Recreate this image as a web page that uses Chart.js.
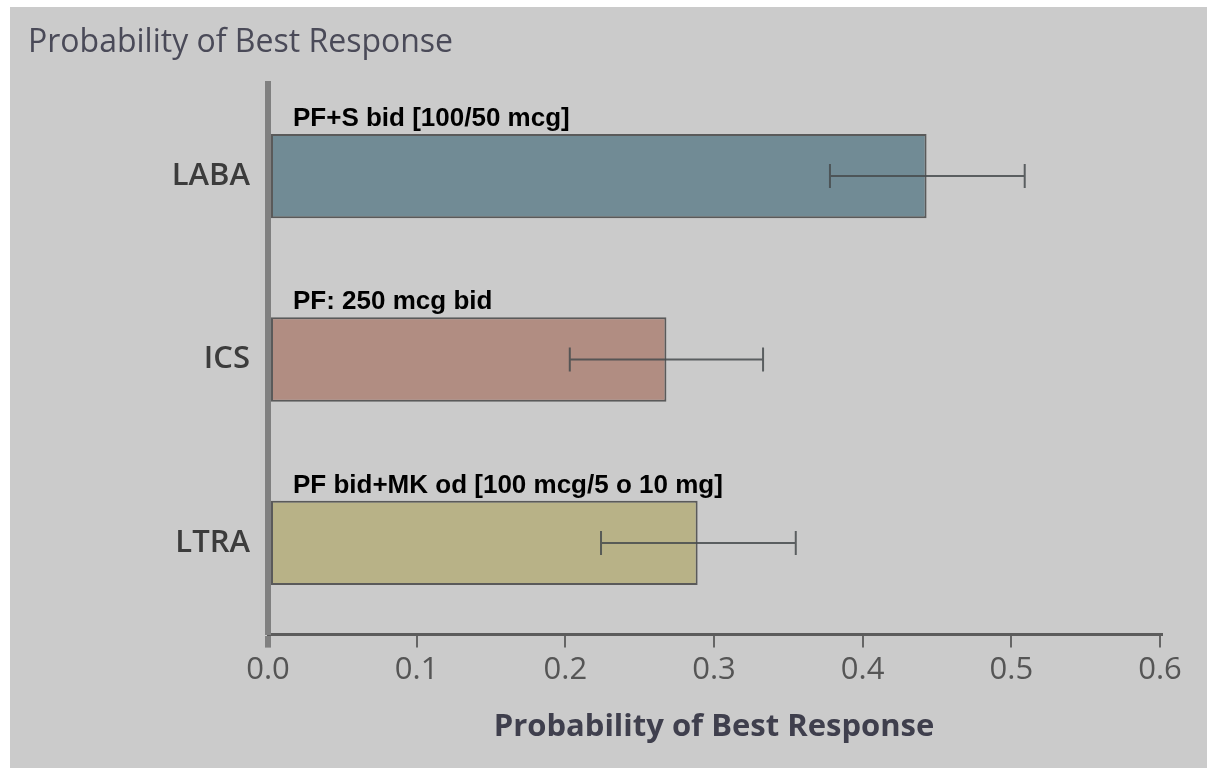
<!DOCTYPE html>
<html>
<head>
<meta charset="utf-8">
<script src="https://cdn.jsdelivr.net/npm/chart.js@4.4.1/dist/chart.umd.min.js"></script>
<style>
  body { margin: 0; background: #ffffff; }
  #wrap { position: absolute; left: 10px; top: 7px; width: 1197px; height: 761px; background: #cbcbcb; }
</style>
</head>
<body>
<div id="wrap"><canvas id="myChart" width="1197" height="761"></canvas></div>
<script>
// data
const categories = ["LABA", "ICS", "LTRA"];
const probValues = [0.443, 0.268, 0.289];
const errLow = [0.378, 0.203, 0.224];
const errHigh = [0.509, 0.333, 0.355];
const barNotes = ["PF+S bid [100/50 mcg]", "PF: 250 mcg bid", "PF bid+MK od [100 mcg/5 o 10 mg]"];
const barColors = ["#718b95", "#b18d82", "#b8b287"];
const xTicks = [0, 0.1, 0.2, 0.3, 0.4, 0.5, 0.6];

// draws the note over each bar and the error bars
const extrasPlugin = {
  id: "extras",
  afterDatasetsDraw(chart) {
    const ctx = chart.ctx;
    const xScale = chart.scales.x;
    const meta = chart.getDatasetMeta(0);
    ctx.save();
    meta.data.forEach((bar, i) => {
      // error bar
      const x1 = xScale.getPixelForValue(errLow[i]);
      const x2 = xScale.getPixelForValue(errHigh[i]);
      ctx.strokeStyle = "rgba(70,75,78,0.85)";
      ctx.lineWidth = 2;
      ctx.beginPath();
      ctx.moveTo(x1, bar.y); ctx.lineTo(x2, bar.y);
      ctx.moveTo(x1, bar.y - 12); ctx.lineTo(x1, bar.y + 12);
      ctx.moveTo(x2, bar.y - 12); ctx.lineTo(x2, bar.y + 12);
      ctx.stroke();
      // note above bar
      ctx.fillStyle = "#000000";
      ctx.font = "bold 26px 'Liberation Sans', Arial, sans-serif";
      ctx.textBaseline = "alphabetic";
      ctx.textAlign = "left";
      ctx.fillText(barNotes[i], chart.chartArea.left + 25, bar.y - bar.height / 2 - 8);
    });
    ctx.restore();
  }
};

const ctx = document.getElementById("myChart").getContext("2d");
const myChart = new Chart(ctx, {
  type: "bar",
  data: {
    labels: categories,
    datasets: [{
      data: probValues,
      backgroundColor: barColors,
      borderColor: "#5a5a5a",
      borderWidth: 2,
      borderSkipped: false,
      barPercentage: 0.46,
      categoryPercentage: 1
    }]
  },
  options: {
    indexAxis: "y",
    responsive: false,
    animation: false,
    layout: { padding: { left: 18, right: 47, top: 0, bottom: 0 } },
    plugins: {
      legend: { display: false },
      tooltip: { enabled: false },
      title: {
        display: true,
        text: "Probability of Best Response",
        align: "start",
        color: "#4a4a58",
        font: { family: "'Open Sans'", size: 32, weight: "normal" },
        padding: { top: 17, bottom: 22 }
      }
    },
    scales: {
      x: {
        min: 0,
        max: 0.6,
        afterBuildTicks: (scale) => { scale.ticks = xTicks.map(v => ({ value: v })); },
        ticks: {
          color: "#555555",
          padding: 4,
          font: { family: "'Open Sans'", size: 31 },
          callback: (v) => Number(v).toFixed(1)
        },
        grid: {
          drawOnChartArea: false,
          drawTicks: true,
          tickLength: 13,
          color: (c) => c.index === 0 ? "#808080" : "#666666",
          lineWidth: (c) => c.index === 0 ? 6 : 2
        },
        border: { color: "#5c5c5c", width: 3 },
        title: {
          display: true,
          text: "Probability of Best Response",
          color: "#3f3f4d",
          font: { family: "'Open Sans'", size: 31, weight: "bold" },
          padding: { top: 16, bottom: 22 }
        }
      },
      y: {
        z: 1,
        afterFit: (scale) => { scale.width = 240; },
        ticks: {
          color: "#3c3c3c",
          padding: 18,
          font: { family: "'Open Sans'", size: 31, weight: "600" }
        },
        grid: { display: false, drawTicks: false },
        border: { color: "#808080", width: 6 }
      }
    }
  },
  plugins: [extrasPlugin]
});
</script>
</body>
</html>
